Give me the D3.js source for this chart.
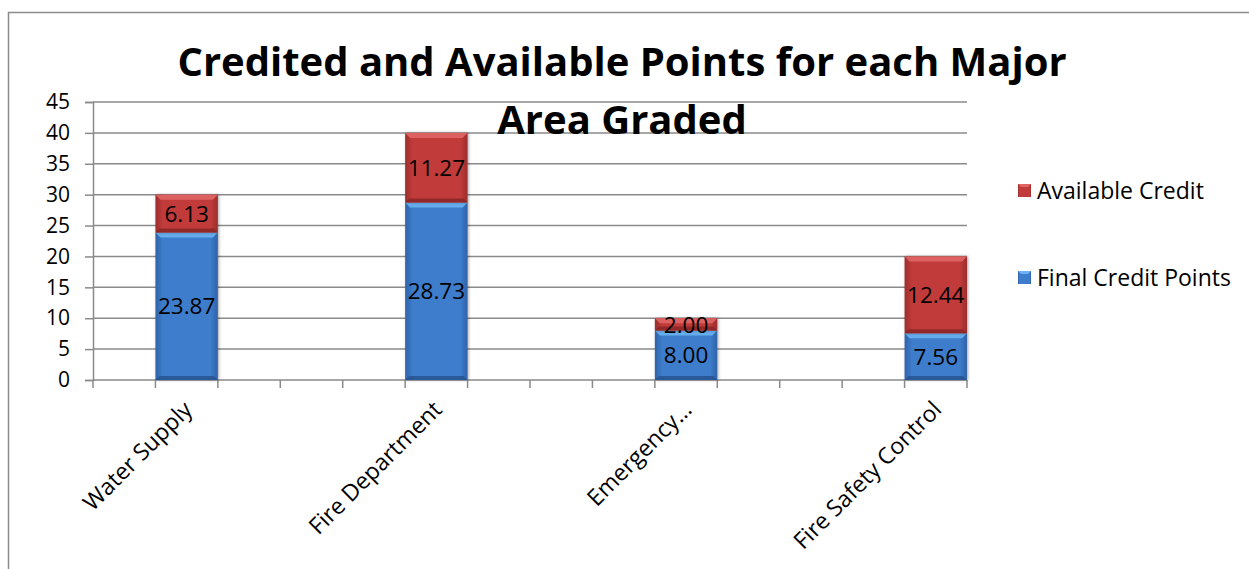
<!DOCTYPE html>
<html>
<head>
<meta charset="utf-8">
<script src="https://cdn.jsdelivr.net/npm/d3@7"></script>
<style>
  html, body { margin: 0; padding: 0; background: #fff; }
  svg { display: block; font-family: "Open Sans", "Liberation Sans", sans-serif; }
</style>
</head>
<body>
<svg id="chart" width="1249" height="569"></svg>
<script>
// Worksheet rows: the graded areas sit in every fourth row, blank rows in between.
const categories = ["", "Water Supply", "", "", "", "Fire Department", "", "", "", "Emergency\u2026", "", "", "", "Fire Safety Control"];
const finalCredit = [null, 23.87, null, null, null, 28.73, null, null, null, 8.00, null, null, null, 7.56];
const availableCredit = [null, 6.13, null, null, null, 11.27, null, null, null, 2.00, null, null, null, 12.44];
const yTicks = [0, 5, 10, 15, 20, 25, 30, 35, 40, 45];
const seriesNames = ["Available Credit", "Final Credit Points"];
const titleLines = ["Credited and Available Points for each Major", "Area Graded"];

const svg = d3.select("#chart");
const plot = { left: 93, right: 967, top: 102, bottom: 380 };

const x = d3.scaleBand().domain(d3.range(categories.length)).range([plot.left, plot.right]).padding(0);
const y = d3.scaleLinear().domain([0, 45]).range([plot.bottom, plot.top]);

// gradients for the bevelled bars
const defs = svg.append("defs");
function barGradient(id, edge, mid) {
  const g = defs.append("linearGradient").attr("id", id).attr("x1", 0).attr("x2", 1).attr("y1", 0).attr("y2", 0);
  g.append("stop").attr("offset", "0%").attr("stop-color", edge);
  g.append("stop").attr("offset", "12%").attr("stop-color", mid);
  g.append("stop").attr("offset", "88%").attr("stop-color", mid);
  g.append("stop").attr("offset", "100%").attr("stop-color", edge);
}
barGradient("gBlue", "#2f62a8", "#3d7dcc");
barGradient("gRed", "#9c2d2d", "#c23b3b");
const sh = defs.append("filter").attr("id", "shadow").attr("x", "-20%").attr("y", "-20%").attr("width", "140%").attr("height", "140%");
sh.append("feDropShadow").attr("dx", 1).attr("dy", 0).attr("stdDeviation", 1.5).attr("flood-color", "#000").attr("flood-opacity", 0.35);

// outer chart frame (right and bottom edges run past the visible area)
svg.append("rect").attr("x", 8.5).attr("y", 12.5).attr("width", 1260).attr("height", 570)
  .attr("fill", "none").attr("stroke", "#8a8a8a").attr("stroke-width", 1.5);

// y-axis with tick labels
const yAxis = svg.append("g").attr("transform", `translate(${plot.left},0)`)
  .call(d3.axisLeft(y).tickValues(yTicks).tickSize(8).tickPadding(15).tickFormat(d3.format("d")));
yAxis.select(".domain").attr("stroke", "#8a8a8a").attr("stroke-width", 1.5);
yAxis.selectAll(".tick line").attr("stroke", "#8a8a8a").attr("stroke-width", 1.5);
yAxis.selectAll(".tick text").attr("font-size", 21).attr("fill", "#000").attr("font-family", "Open Sans");

// horizontal gridlines
svg.append("g").selectAll("line").data(yTicks.filter(d => d > 0)).join("line")
  .attr("x1", plot.left).attr("x2", plot.right)
  .attr("y1", d => y(d)).attr("y2", d => y(d))
  .attr("stroke", "#8a8a8a").attr("stroke-width", 1.5);

// x-axis baseline and slot ticks
const slotEdges = d3.range(categories.length + 1).map(i => i < categories.length ? x(i) : x(i - 1) + x.bandwidth());
svg.append("line").attr("x1", plot.left).attr("x2", plot.right).attr("y1", y(0)).attr("y2", y(0))
  .attr("stroke", "#8a8a8a").attr("stroke-width", 1.5);
svg.append("g").selectAll("line").data(slotEdges).join("line")
  .attr("x1", d => d).attr("x2", d => d).attr("y1", y(0)).attr("y2", y(0) + 8)
  .attr("stroke", "#8a8a8a").attr("stroke-width", 1.5);

// stacked segments
const rows = categories.map((c, i) => ({ i, c, fin: finalCredit[i], avail: availableCredit[i] })).filter(d => d.fin != null);
const segs = [];
rows.forEach(d => {
  segs.push({ i: d.i, y0: 0, y1: d.fin, v: d.fin, fill: "url(#gBlue)", light: "#6cb2f2", dark: "#25508d" });
  segs.push({ i: d.i, y0: d.fin, y1: d.fin + d.avail, v: d.avail, fill: "url(#gRed)", light: "#e06666", dark: "#862525" });
});

const bars = svg.append("g");
const segG = bars.selectAll("g").data(segs).join("g");
segG.append("rect")
  .attr("x", d => x(d.i)).attr("width", x.bandwidth())
  .attr("y", d => y(d.y1)).attr("height", d => y(d.y0) - y(d.y1))
  .attr("fill", d => d.fill).attr("filter", "url(#shadow)");
// top bevel
segG.append("path").attr("d", d => {
  const x0 = x(d.i), x1 = x0 + x.bandwidth(), t = y(d.y1), b = Math.min(5, (y(d.y0) - y(d.y1)) / 2);
  return `M${x0},${t}L${x1},${t}L${x1 - b},${t + b}L${x0 + b},${t + b}Z`;
}).attr("fill", d => d.light).attr("opacity", 0.9);
// bottom bevel
segG.append("path").attr("d", d => {
  const x0 = x(d.i), x1 = x0 + x.bandwidth(), bt = y(d.y0), b = Math.min(4, (y(d.y0) - y(d.y1)) / 2);
  return `M${x0},${bt}L${x1},${bt}L${x1 - b},${bt - b}L${x0 + b},${bt - b}Z`;
}).attr("fill", d => d.dark).attr("opacity", 0.8);

// value labels centred in each segment
bars.selectAll("text").data(segs).join("text")
  .attr("x", d => x(d.i) + x.bandwidth() / 2)
  .attr("y", d => (y(d.y0) + y(d.y1)) / 2)
  .attr("dy", "0.36em")
  .attr("text-anchor", "middle").attr("font-size", 22.5).attr("fill", "#000")
  .text(d => d3.format(".2f")(d.v));

// rotated category labels
svg.append("g").selectAll("text").data(rows).join("text")
  .attr("transform", d => `translate(${x(d.i) + x.bandwidth() / 2 + 7},${y(0) + 31}) rotate(-45)`)
  .attr("text-anchor", "end").attr("font-size", 23).attr("fill", "#000")
  .text(d => d.c);

// title
svg.append("g").selectAll("text").data(titleLines).join("text")
  .attr("x", 622).attr("y", (d, i) => 76 + i * 58)
  .attr("text-anchor", "middle").attr("font-size", 40).attr("font-weight", "bold").attr("fill", "#000")
  .text(d => d);

// legend
const legendColors = [{ fill: "url(#gRed)", light: "#e06666" }, { fill: "url(#gBlue)", light: "#6cb2f2" }];
const lg = svg.append("g").selectAll("g").data(seriesNames).join("g")
  .attr("transform", (d, i) => `translate(1018,${184 + i * 87})`);
lg.append("rect").attr("width", 13).attr("height", 13).attr("fill", (d, i) => legendColors[i].fill);
lg.append("path").attr("d", "M0,0L13,0L10,3L3,3Z").attr("fill", (d, i) => legendColors[i].light);
lg.append("text").attr("x", 19).attr("y", 6.5).attr("dy", "0.36em").attr("font-size", 23).attr("fill", "#000").text(d => d);
</script>
</body>
</html>
